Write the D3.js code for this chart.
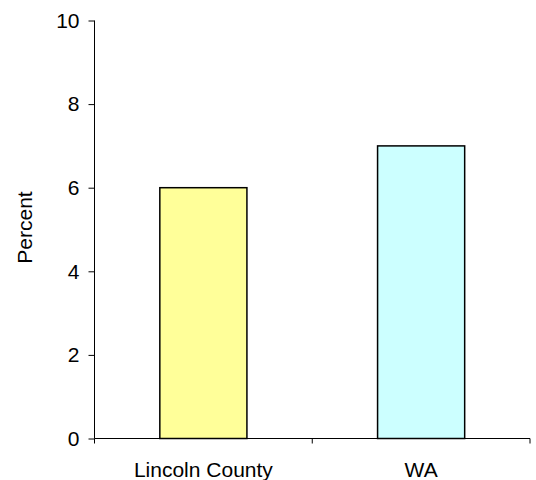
<!DOCTYPE html>
<html>
<head>
<meta charset="utf-8">
<script src="https://cdn.jsdelivr.net/npm/d3@7/dist/d3.min.js"></script>
<style>
  html, body { margin: 0; padding: 0; background: #fff; }
  svg { display: block; font-family: "Liberation Sans", Arial, sans-serif; }
</style>
</head>
<body>
<svg id="chart" width="536" height="480"></svg>
<script>
const categories = ["Lincoln County", "WA"];
const values = [6, 7];
const barColors = ["#FFFF99", "#CCFFFF"];
const yTicks = [0, 2, 4, 6, 8, 10];
const yTitle = "Percent";

const FONT = "Liberation Sans, Arial, sans-serif";
const FS = 21;

const svg = d3.select("#chart");
const margin = { left: 94.5, right: 6, top: 20.5, bottom: 41.5 };
const W = 536, H = 480;

const x = d3.scaleBand()
  .domain(categories)
  .range([margin.left, W - margin.right])
  .paddingInner(0.6)
  .paddingOuter(0.3);

const y = d3.scaleLinear()
  .domain([0, 10])
  .range([H - margin.bottom, margin.top]);

// bars
svg.append("g").selectAll("rect")
  .data(categories)
  .join("rect")
  .attr("x", d => x(d))
  .attr("width", x.bandwidth())
  .attr("y", (d, i) => y(values[i]))
  .attr("height", (d, i) => y(0) - y(values[i]))
  .attr("fill", (d, i) => barColors[i])
  .attr("stroke", "#000")
  .attr("stroke-width", 1.5);

// y axis
const yAxis = svg.append("g")
  .attr("transform", `translate(${margin.left},0)`)
  .call(d3.axisLeft(y).tickValues(yTicks).tickSize(6).tickPadding(9));
yAxis.selectAll("text")
  .attr("font-size", FS)
  .attr("fill", "#000")
  .attr("font-family", FONT);
yAxis.selectAll("line, path").attr("stroke", "#000");
yAxis.select(".domain").attr("d", `M0,${y(0)}V${y(10)}`);

// x axis, ticks at category boundaries
const xAxisG = svg.append("g").attr("transform", `translate(0,${y(0)})`);
xAxisG.append("line")
  .attr("x1", margin.left).attr("x2", W - margin.right)
  .attr("stroke", "#000");
const edges = [
  margin.left,
  margin.left + (W - margin.left - margin.right) / 2,
  W - margin.right
];
xAxisG.selectAll(".tk").data(edges).join("line")
  .attr("class", "tk")
  .attr("x1", d => d).attr("x2", d => d)
  .attr("y1", 0).attr("y2", 5)
  .attr("stroke", "#000");
xAxisG.selectAll(".lbl").data(categories).join("text")
  .attr("class", "lbl")
  .attr("x", d => x(d) + x.bandwidth() / 2)
  .attr("y", 38)
  .attr("text-anchor", "middle")
  .attr("font-size", FS)
  .attr("font-family", FONT)
  .text(d => d);

// y title
svg.append("text")
  .attr("transform", `translate(32,${(y(0) + y(10)) / 2 - 2}) rotate(-90)`)
  .attr("text-anchor", "middle")
  .attr("font-size", FS)
  .attr("font-family", FONT)
  .text(yTitle);
</script>
</body>
</html>
